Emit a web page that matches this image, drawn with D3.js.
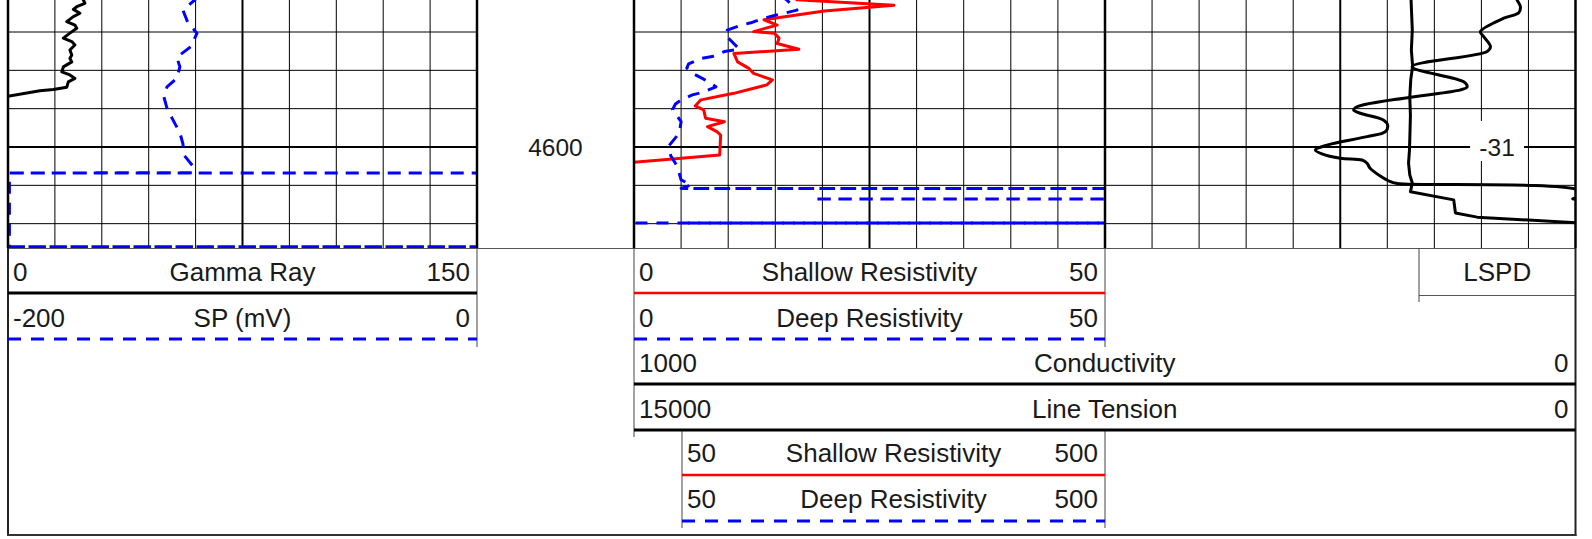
<!DOCTYPE html>
<html><head><meta charset="utf-8">
<script src="https://cdn.jsdelivr.net/npm/d3@7/dist/d3.min.js"></script>
<style>
html,body{margin:0;padding:0;background:#fff;}
svg{display:block;}
text{font-family:"Liberation Sans",Arial,Helvetica,sans-serif;fill:#1a1a1a;}
</style>
</head><body>
<svg id="c" width="1592" height="539"></svg>
<script>
// ---------- data ----------
const depthTop = 4561.65, depthBottom = 4626.35;
const gridDepths = [4560, 4570, 4580, 4590, 4600, 4610, 4620];
const depthLabels = [4600];
const lspdLabels = [[4600, "-31"]];

const gammaRange = [0, 150];
const spRange = [-200, 0];
const resRange = [0, 50];
const resBackupRange = [50, 500];
const condRange = [1000, 0];
const tensionRange = [15000, 0];

const gammaRay = [[4560.5,23.5],[4561.6,24.1],[4562.5,24.6],[4563.4,22.0],[4564.1,20.9],[4565.1,23.0],[4566.0,20.9],[4567.3,18.8],[4568.2,21.4],[4569.0,22.0],[4570.3,19.8],[4571.6,17.7],[4572.5,20.4],[4573.4,21.4],[4574.7,19.8],[4576.0,20.4],[4576.9,19.8],[4577.8,20.4],[4579.1,17.7],[4580.4,17.2],[4581.2,19.8],[4582.1,21.4],[4583.0,19.3],[4584.4,18.8],[4585.0,14.5],[4585.3,10.2],[4586.9,-1],[4626.5,-1]];

const spCurve = [[4560.5,-119.5],[4561.6,-120.3],[4564.3,-125.4],[4567.7,-123.2],[4570.3,-119.4],[4573.8,-122.0],[4576.6,-128.0],[4579.1,-126.7],[4582.1,-128.0],[4584.3,-132.2],[4587.0,-133.5],[4589.9,-132.2],[4593.0,-129.6],[4596.3,-126.7],[4599.2,-125.4],[4602.1,-125.0],[4605.0,-121.1],[4606.7,-121.1],[4606.8,-205],[4606.8,5],[4606.8,-199.4],[4626.0,-199.4],[4626.0,5],[4626.05,-205]];

const shallowRes = [[4560.5,17.0],[4561.6,17.3],[4563.0,27.6],[4564.5,20.2],[4566.8,13.8],[4568.2,15.2],[4569.0,14.0],[4569.9,12.7],[4570.3,14.9],[4571.6,15.4],[4573.0,15.2],[4574.5,17.5],[4575.6,10.6],[4577.8,11.0],[4579.5,12.2],[4580.8,12.7],[4582.5,14.7],[4583.8,14.1],[4586.0,10.6],[4587.7,7.1],[4589.3,6.5],[4590.3,7.4],[4592.5,7.6],[4593.4,9.6],[4594.7,7.8],[4596.0,8.8],[4596.9,9.2],[4602.1,9.1],[4604.1,-0.5],[4626.5,-1]];

const deepRes = [[4560.5,15.5],[4561.6,16.2],[4564.3,17.3],[4565.0,16.1],[4565.8,14.7],[4566.4,13.8],[4567.6,12.4],[4568.2,11.4],[4569.5,9.9],[4570.8,9.7],[4572.3,10.3],[4574.5,11.2],[4575.1,9.6],[4576.4,8.3],[4576.9,7.1],[4578.3,5.8],[4579.4,5.6],[4580.8,6.2],[4582.3,7.4],[4584.3,8.7],[4585.8,7.2],[4586.4,6.2],[4587.7,5.0],[4588.8,4.4],[4590.2,4.1],[4593.4,5.0],[4596.4,4.8],[4599.7,3.7],[4602.3,3.9],[4605.1,4.6],[4608.6,5.0],[4609.9,6.1],[4610.8,5.0],[4610.8,60],[4619.8,60],[4619.8,-5],[4626.5,-5]];

const deepResBackup = [[4610.8,50],[4610.8,600],[4613.55,600],[4613.57,190],[4613.6,600],[4619.8,600],[4619.8,50]];

const conductivity = [[4560.5,64],[4561.65,62],[4563.4,58.5],[4565.0,60.3],[4566.4,76.2],[4569.9,101.0],[4571.2,97.5],[4573.8,90.3],[4575.1,93.9],[4579.05,173.6],[4583.0,118.7],[4584.3,115.1],[4585.1,122.2],[4587.0,175.3],[4589.5,232.0],[4590.35,235.6],[4591.2,228.5],[4593.0,203.7],[4594.3,199.5],[4596.0,201.9],[4597.3,221.4],[4599.5,263.9],[4600.8,276.3],[4601.8,269.2],[4602.95,249.7],[4603.4,226.7],[4604.25,221.4],[4605.6,217.9],[4609.05,196.6],[4609.5,189.5],[4611.5,-5],[4613.0,-5],[4613.5,3],[4614.0,-5],[4626.5,-5]];

const lineTension = [[4560.5,2620],[4561.6,2620],[4565.6,2610],[4569.5,2600],[4574.7,2615],[4578.9,2595],[4582.5,2625],[4587.0,2640],[4591.7,2630],[4595.6,2636],[4600.8,2645],[4604.2,2660],[4607.3,2640],[4609.4,2600],[4611.7,2630],[4613.8,1940],[4617.2,1913],[4618.3,1567],[4619.8,-50],[4626.5,-50]];

const titleGR = "Gamma Ray", titleSP = "SP (mV)", titleShallow = "Shallow Resistivity",
      titleDeep = "Deep Resistivity", titleCond = "Conductivity", titleTension = "Line Tension", titleLSPD = "LSPD";

// ---------- layout ----------
const svg = d3.select("#c");
const plotTop = 0, plotBottom = 248;
const T1 = [8, 477], T2 = [634, 1105], T3 = [1105, 1575.5];
const T2B = [682, 1105];
const y = d3.scaleLinear().domain([depthTop, depthBottom]).range([plotTop, plotBottom]);

const xGR = d3.scaleLinear().domain(gammaRange).range(T1);
const xSP = d3.scaleLinear().domain(spRange).range(T1);
const xRes = d3.scaleLinear().domain(resRange).range(T2);
const xResB = d3.scaleLinear().domain(resBackupRange).range(T2B);
const xCond = d3.scaleLinear().domain(condRange).range([T2[0], T3[1]]);
const xTen = d3.scaleLinear().domain(tensionRange).range([T2[0], T3[1]]);

const BLUE = "#0000ff", RED = "#ff0000";
const DASH = "12,9", PERIOD = 21;

const defs = svg.append("defs");
function clip(id, x0, x1) {
  defs.append("clipPath").attr("id", id).append("rect")
    .attr("x", x0).attr("y", plotTop).attr("width", x1 - x0).attr("height", plotBottom - plotTop);
}
clip("c1", T1[0], T1[1]); clip("c2", T2[0], T2[1]); clip("c2b", T2B[0], T2B[1]); clip("c23", T2[0], T3[1]);

// grid
[T1, T2, T3].forEach(t => {
  const gx = d3.scaleLinear().domain([0, 10]).range(t);
  const g = svg.append("g");
  g.selectAll("line.v").data(d3.range(1, 10)).join("line").attr("class", "v")
    .attr("x1", d => gx(d)).attr("x2", d => gx(d)).attr("y1", plotTop).attr("y2", plotBottom)
    .attr("stroke", "#000").attr("stroke-width", d => d === 5 ? 2 : 1);
  g.selectAll("line.h").data(gridDepths).join("line").attr("class", "h")
    .attr("x1", t[0]).attr("x2", t[1]).attr("y1", d => y(d)).attr("y2", d => y(d))
    .attr("stroke", "#000").attr("stroke-width", d => d % 50 === 0 ? 2 : 1);
});

// LSPD annotation
const lspdX = (T3[0] + (T3[1] - T3[0]) * 2 / 3 + T3[1]) / 2;
svg.selectAll("rect.lb").data(lspdLabels).join("rect").attr("class", "lb")
  .attr("x", lspdX - 27).attr("y", d => y(d[0]) - 26).attr("width", 54).attr("height", 40).attr("fill", "#fff");
svg.selectAll("text.lspd").data(lspdLabels).join("text").attr("class", "lspd")
  .attr("x", lspdX).attr("y", d => y(d[0]) + 9).attr("text-anchor", "middle")
  .attr("font-size", 24.5).text(d => d[1]);

// depth labels
svg.selectAll("text.depth").data(depthLabels).join("text").attr("class", "depth")
  .attr("x", (T1[1] + T2[0]) / 2).attr("y", d => y(d) + 9).attr("text-anchor", "middle")
  .attr("font-size", 24.5).text(d => d);

// curves
function cumLen(data, xs) {
  const L = [0];
  for (let i = 1; i < data.length; i++) {
    L.push(L[i - 1] + Math.hypot(xs(data[i][1]) - xs(data[i - 1][1]), y(data[i][0]) - y(data[i - 1][0])));
  }
  return L;
}
function curve(data, xs, clipId, color, dash, interp, offset) {
  const ln = d3.line().x(d => xs(d[1])).y(d => y(d[0])).curve(interp || d3.curveLinear);
  svg.append("path").datum(data).attr("d", ln).attr("clip-path", `url(#${clipId})`)
    .attr("fill", "none").attr("stroke", color).attr("stroke-width", 3)
    .attr("stroke-dasharray", dash || null).attr("stroke-dashoffset", offset || 0)
    .attr("stroke-linejoin", "round");
}
// phase of the backup dashes relative to the main deep curve where both return on-scale
const Lp = cumLen(deepRes, xRes), Lb = cumLen(deepResBackup, xResB);
const ip = deepRes.findIndex(d => d[1] === 60 && d[0] > 4615);
const jb = deepResBackup.findIndex(d => d[1] === 600 && d[0] > 4615);
const sp = Lp[ip] + (xRes(60) - T2[1]);
const sb = Lb[jb] + (xResB(600) - T2[1]);
const backupOffset = (((sp - sb - PERIOD / 2) % PERIOD) + PERIOD) % PERIOD;

curve(lineTension, xTen, "c23", "#000", null);
curve(conductivity, xCond, "c23", "#000", null, d3.curveCatmullRom.alpha(0.5));
curve(gammaRay, xGR, "c1", "#000", null);
curve(spCurve, xSP, "c1", BLUE, DASH);
curve(shallowRes, xRes, "c2", RED, null);
curve(deepRes, xRes, "c2", BLUE, DASH);
curve(deepResBackup, xResB, "c2b", BLUE, DASH, null, backupOffset);

// track borders
svg.selectAll("line.border").data([T1[0], T1[1], T2[0], T2[1], T3[1]]).join("line").attr("class", "border")
  .attr("x1", d => d).attr("x2", d => d).attr("y1", plotTop).attr("y2", plotBottom)
  .attr("stroke", "#000").attr("stroke-width", 2.5);
svg.append("line").attr("x1", T1[0]).attr("x2", T3[1]).attr("y1", plotBottom + 0.5).attr("y2", plotBottom + 0.5)
  .attr("stroke", "#555").attr("stroke-width", 1);

// ---------- header ----------
const hdrV = [[T1[1], plotBottom, 347], [T2[0], plotBottom, 437], [T2[1], plotBottom, 347],
              [T2B[0], 430, 528], [T2B[1], 430, 528], [1419, plotBottom, 302]];
svg.selectAll("line.hv").data(hdrV).join("line").attr("class", "hv")
  .attr("x1", d => d[0]).attr("x2", d => d[0]).attr("y1", d => d[1]).attr("y2", d => d[2])
  .attr("stroke", "#444").attr("stroke-width", 1);
svg.append("line").attr("x1", 1419).attr("x2", T3[1]).attr("y1", 295.5).attr("y2", 295.5).attr("stroke", "#555").attr("stroke-width", 1);
svg.append("line").attr("x1", T1[0]).attr("x2", T1[0]).attr("y1", plotBottom).attr("y2", 535).attr("stroke", "#222").attr("stroke-width", 2);
svg.append("line").attr("x1", T3[1]).attr("x2", T3[1]).attr("y1", plotBottom).attr("y2", 536).attr("stroke", "#222").attr("stroke-width", 2);
svg.append("line").attr("x1", T1[0] - 1).attr("x2", T3[1] + 1).attr("y1", 535).attr("y2", 535).attr("stroke", "#333").attr("stroke-width", 2);

const headers = [
  {r: T1, xs: xGR, title: titleGR, base: 281, ly: 293, color: "#000", w: 3, dash: null},
  {r: T1, xs: xSP, title: titleSP, base: 327, ly: 339, color: BLUE, w: 3, dash: "13,10"},
  {r: T2, xs: xRes, title: titleShallow, base: 281, ly: 293, color: RED, w: 2.6, dash: null},
  {r: T2, xs: xRes, title: titleDeep, base: 327, ly: 339, color: BLUE, w: 3, dash: "13,10"},
  {r: [T2[0], T3[1]], xs: xCond, title: titleCond, base: 372, ly: 384, color: "#000", w: 3, dash: null},
  {r: [T2[0], T3[1]], xs: xTen, title: titleTension, base: 418, ly: 430, color: "#000", w: 3, dash: null},
  {r: T2B, xs: xResB, title: titleShallow, base: 462, ly: 475, color: RED, w: 2.6, dash: null},
  {r: T2B, xs: xResB, title: titleDeep, base: 508, ly: 521, color: BLUE, w: 3, dash: "13,10"}
];
const hg = svg.append("g").attr("font-size", 26);
headers.forEach(h => {
  const [a, b] = h.r;
  hg.append("text").attr("x", a + 5).attr("y", h.base).text(h.xs.domain()[0]);
  hg.append("text").attr("x", (a + b) / 2).attr("y", h.base).attr("text-anchor", "middle").text(h.title);
  hg.append("text").attr("x", b - 7).attr("y", h.base).attr("text-anchor", "end").text(h.xs.domain()[1]);
  hg.append("line").attr("x1", a).attr("x2", b).attr("y1", h.ly).attr("y2", h.ly)
    .attr("stroke", h.color).attr("stroke-width", h.w).attr("stroke-dasharray", h.dash);
});
hg.append("text").attr("x", (1419 + T3[1]) / 2).attr("y", 281).attr("text-anchor", "middle").text(titleLSPD);
</script>
</body></html>
